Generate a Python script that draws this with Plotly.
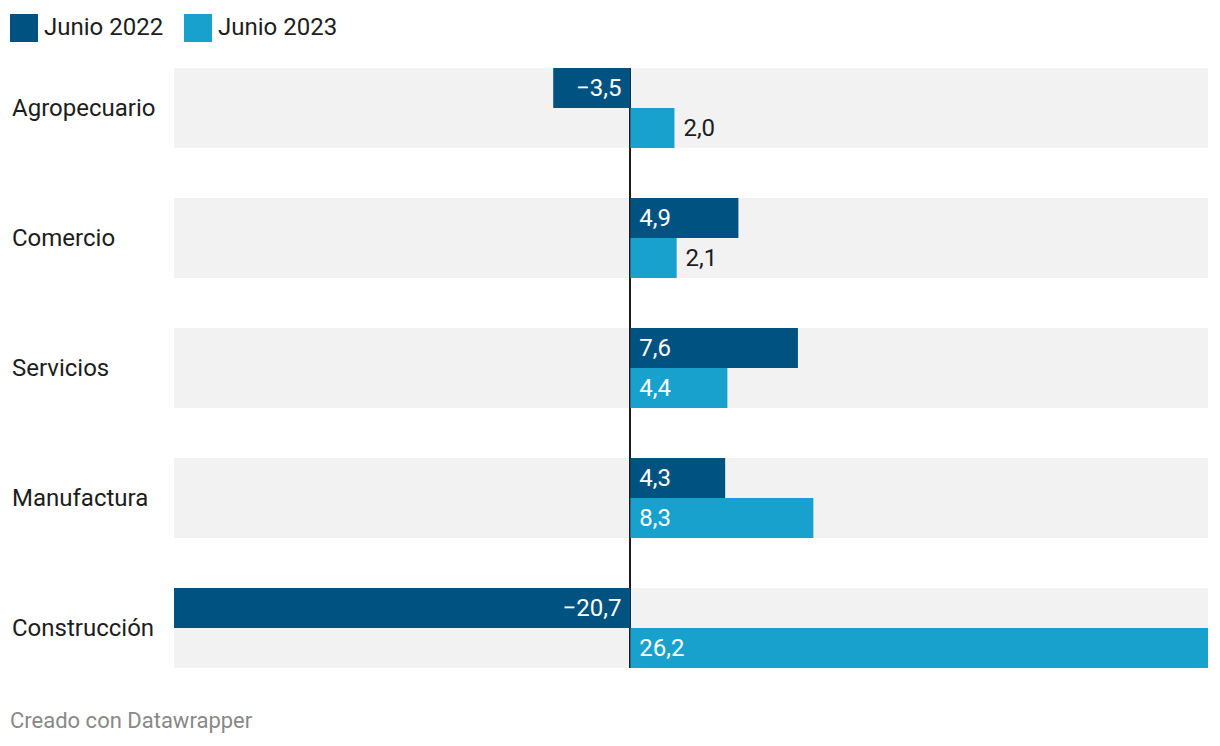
import plotly.graph_objects as go

categories = ["Agropecuario", "Comercio", "Servicios", "Manufactura", "Construcción"]
series_names = ["Junio 2022", "Junio 2023"]
values_2022 = [-3.5, 4.9, 7.6, 4.3, -20.7]
values_2023 = [2.0, 2.1, 4.4, 8.3, 26.2]
footer_text = "Creado con Datawrapper"

colors = ["#005381", "#18a1cd"]
band_color = "#f2f2f2"
text_dark = "#1d1d1d"
FONT = "Roboto"
FS = 24

NB = "\u00a0"


def fmt(v):
    return f"{v:.1f}".replace(".", ",").replace("-", "\u2212")


def labels(vals):
    txt, pos = [], []
    for v in vals:
        if abs(v) >= 3:
            pos.append("inside")
            txt.append(fmt(v) + NB if v < 0 else NB + fmt(v))
        else:
            pos.append("outside")
            txt.append(NB + fmt(v))
    return txt, pos


fig = go.Figure()
for name, vals, col in zip(series_names, [values_2022, values_2023], colors):
    txt, pos = labels(vals)
    fig.add_trace(go.Bar(
        y=categories, x=vals, name=name, orientation="h",
        marker=dict(color=col, line=dict(width=0)),
        text=txt, textposition=pos, insidetextanchor="start",
        insidetextfont=dict(color="white", size=FS, family=FONT),
        outsidetextfont=dict(color=text_dark, size=FS, family=FONT),
        constraintext="none", cliponaxis=False, showlegend=False,
        hoverinfo="skip",
    ))

allv = values_2022 + values_2023
xmin, xmax = min(allv), max(allv)

period = 130.0
band = 80.0
half = band / period / 2
n = len(categories)

shapes = []
for i in range(n):
    shapes.append(dict(type="rect", xref="paper", yref="y", x0=0, x1=1,
                       y0=i - half, y1=i + half, fillcolor=band_color,
                       line=dict(width=0), layer="below"))

annotations = []
for c in categories:
    annotations.append(dict(xref="paper", yref="y", x=0, y=c, xanchor="left",
                            yanchor="middle", xshift=-164, showarrow=False,
                            text=c, font=dict(size=FS, color=text_dark, family=FONT)))

# legend
leg_sq = [(-164, -136), (10, 38)]
leg_tx = [-132, 42]
for name, col, (a, b), tx in zip(series_names, colors, leg_sq, leg_tx):
    shapes.append(dict(type="rect", xref="paper", yref="paper",
                       xsizemode="pixel", ysizemode="pixel", xanchor=0, yanchor=1,
                       x0=a, x1=b, y0=26, y1=54, fillcolor=col, line=dict(width=0)))
    annotations.append(dict(xref="paper", yref="paper", x=0, y=1, xshift=tx, yshift=41,
                            xanchor="left", yanchor="middle", showarrow=False, text=name,
                            font=dict(size=FS, color=text_dark, family=FONT)))

annotations.append(dict(xref="paper", yref="paper", x=0, y=0, xshift=-166, yshift=-52,
                        xanchor="left", yanchor="middle", showarrow=False, text=footer_text,
                        font=dict(size=22, color="#888888", family=FONT)))

fig.update_layout(
    width=1212, height=738,
    margin=dict(l=166, r=12, t=60, b=78),
    paper_bgcolor="white", plot_bgcolor="white",
    barmode="group", bargap=(period - band) / period, bargroupgap=0,
    font=dict(family=FONT, size=FS, color=text_dark),
    shapes=shapes, annotations=annotations, showlegend=False,
    xaxis=dict(range=[xmin, xmax], showgrid=False, showticklabels=False,
               zeroline=True, zerolinecolor="#1d1d1d", zerolinewidth=2, fixedrange=True),
    yaxis=dict(range=[n - 1 + half, -half], showgrid=False, showticklabels=False,
               zeroline=False, fixedrange=True),
)

fig.write_html("out.html")
